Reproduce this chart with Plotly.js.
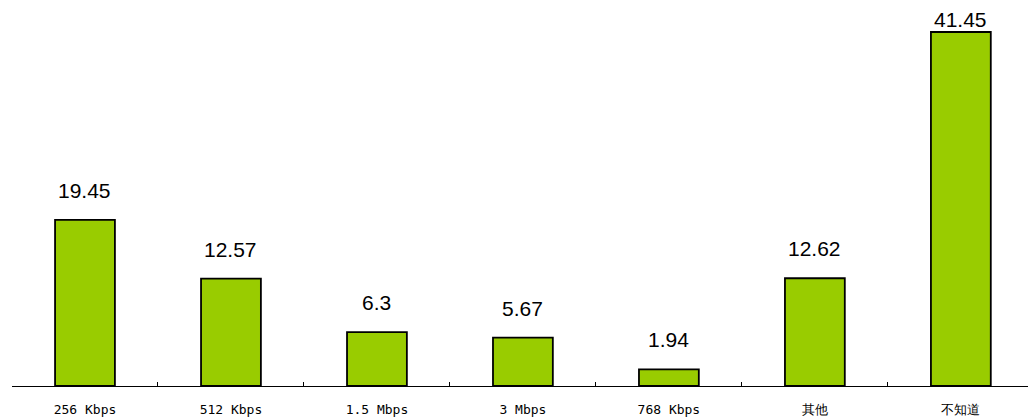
<!DOCTYPE html>
<html>
<head>
<meta charset="utf-8">
<script src="https://cdn.plot.ly/plotly-3.0.1.min.js"></script>
<style>html,body{margin:0;padding:0;background:#fff;}#chart{width:1028px;height:418px;}</style>
</head>
<body>
<div id="chart"></div>
<script>
const categories = ["256 Kbps", "512 Kbps", "1.5 Mbps", "3 Mbps", "768 Kbps", "其他", "不知道"];
const values = [19.45, 12.57, 6.3, 5.67, 1.94, 12.62, 41.45];
const valueLabels = ["19.45", "12.57", "6.3", "5.67", "1.94", "12.62", "41.45"];

const W = 1028, H = 418;
const margin = {l: 12, r: 0, t: 0, b: 32};
const yMax = 45.2;
const plotH = H - margin.t - margin.b;
const scale = plotH / yMax;

const annotations = values.map((v, i) => {
  const headroom = (yMax - v) * scale;
  const shift = Math.max(-4, Math.min(16, headroom - 33));
  return {
    x: categories[i], y: v, xref: 'x', yref: 'y',
    text: valueLabels[i], showarrow: false,
    yanchor: 'bottom', yshift: shift,
    font: {family: 'Liberation Sans, Arial, sans-serif', size: 21, color: '#000'}
  };
});

const trace = {
  type: 'bar', x: categories, y: values,
  width: 0.41,
  marker: {color: '#99CC00', line: {color: '#000', width: 1.8}},
  hoverinfo: 'none'
};

const layout = {
  width: W, height: H, margin: margin,
  paper_bgcolor: '#fff', plot_bgcolor: '#fff',
  showlegend: false,
  xaxis: {
    type: 'category', range: [-0.5, 6.46],
    showline: true, linecolor: '#000', linewidth: 1,
    ticks: 'inside', ticklen: 4, tickcolor: '#000', tickson: 'boundaries',
    showgrid: false, zeroline: false,
    ticklabelstandoff: 11,
    tickfont: {family: 'DejaVu Sans Mono, monospace', size: 13, color: '#000'}
  },
  yaxis: {range: [0, yMax], visible: false, showgrid: false, zeroline: false},
  annotations: annotations
};

Plotly.newPlot('chart', [trace], layout, {staticPlot: true, displayModeBar: false});
</script>
</body>
</html>
